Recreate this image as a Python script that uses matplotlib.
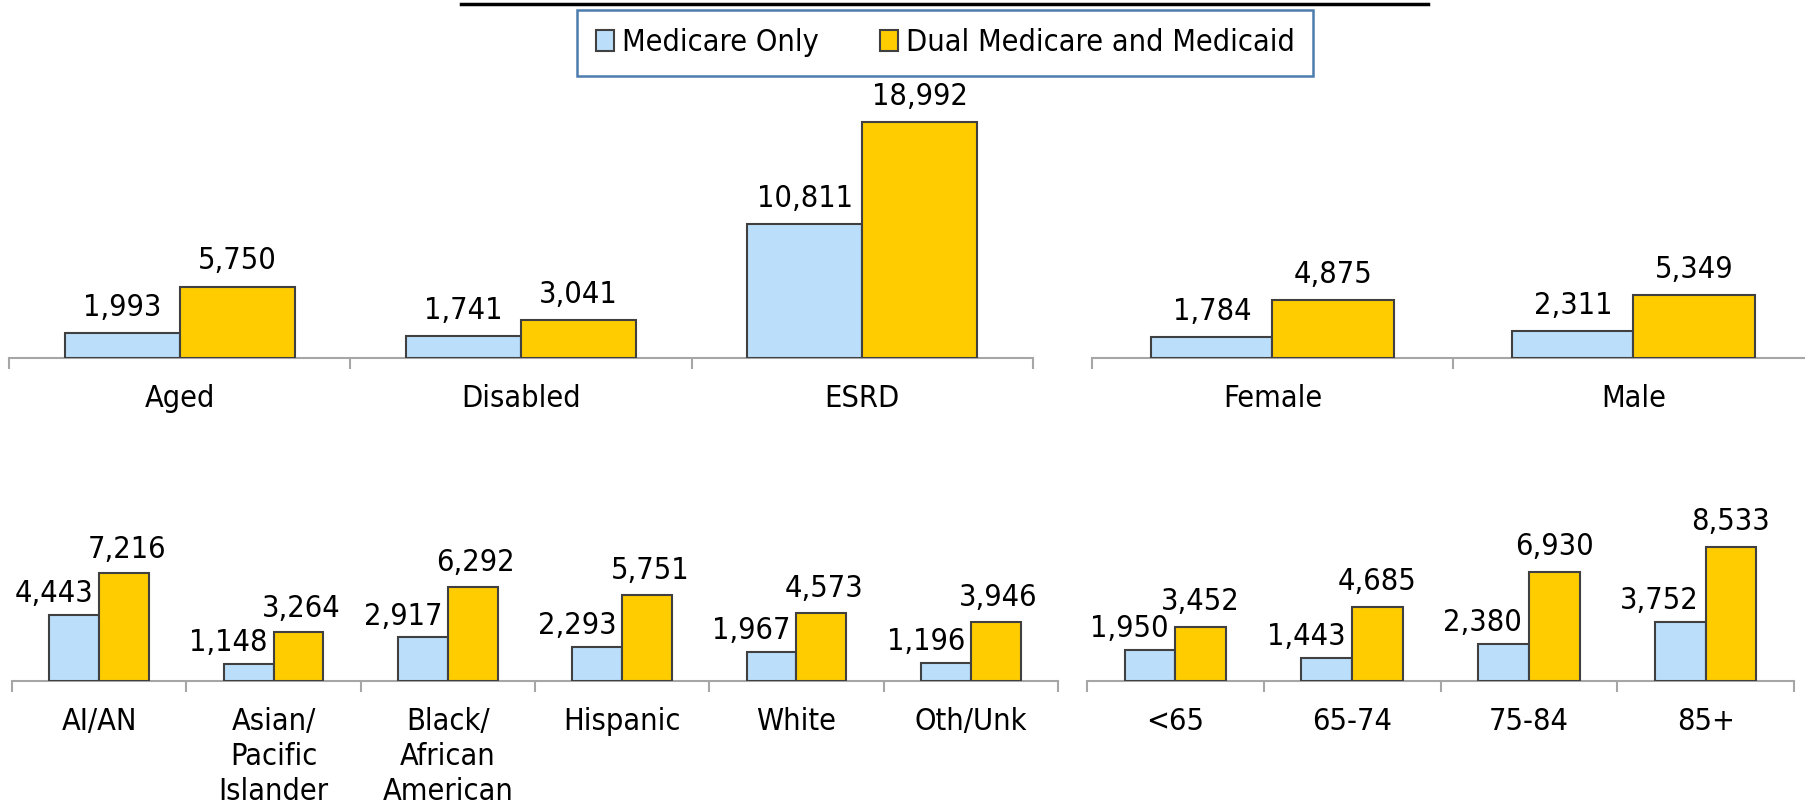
import numpy as np
import matplotlib.pyplot as plt
from matplotlib.lines import Line2D

plt.rcParams['font.family'] = ['DejaVu Sans']
plt.rcParams['font.stretch'] = 'condensed'
plt.rcParams['font.size'] = 22

# --- data ---
series_names = ['Medicare Only', 'Dual Medicare and Medicaid']

elig_cats = ['Aged', 'Disabled', 'ESRD']
elig_medicare = [1993, 1741, 10811]
elig_dual = [5750, 3041, 18992]

sex_cats = ['Female', 'Male']
sex_medicare = [1784, 2311]
sex_dual = [4875, 5349]

race_cats = ['AI/AN', 'Asian/\nPacific\nIslander', 'Black/\nAfrican\nAmerican',
             'Hispanic', 'White', 'Oth/Unk']
race_medicare = [4443, 1148, 2917, 2293, 1967, 1196]
race_dual = [7216, 3264, 6292, 5751, 4573, 3946]

age_cats = ['<65', '65-74', '75-84', '85+']
age_medicare = [1950, 1443, 2380, 3752]
age_dual = [3452, 4685, 6930, 8533]

BLUE = '#BBDEFB'
YELLOW = '#FFCC00'
EDGE = '#404040'
GRAY = '#A6A6A6'

W, H = 1806, 810
fig = plt.figure(figsize=(W / 100, H / 100), dpi=100)


def panel(x0, x1, ybase, ytop, ymax, cats, med, dual, width,
          dx_med=0, dx_dual=0, dy_med=8, dy_dual=8):
    ax = fig.add_axes([x0 / W, (H - ybase) / H, (x1 - x0) / W, (ybase - ytop) / H])
    x = np.arange(len(cats))
    b1 = ax.bar(x - width / 2, med, width, color=BLUE, edgecolor=EDGE,
                linewidth=1.5, label=series_names[0], zorder=3)
    b2 = ax.bar(x + width / 2, dual, width, color=YELLOW, edgecolor=EDGE,
                linewidth=1.5, label=series_names[1], zorder=3)
    for xi, v in zip(x, med):
        ax.annotate(f'{v:,}', (xi - width / 2, v), xytext=(dx_med, dy_med),
                    textcoords='offset points', ha='center', va='bottom')
    for xi, v in zip(x, dual):
        ax.annotate(f'{v:,}', (xi + width / 2, v), xytext=(dx_dual, dy_dual),
                    textcoords='offset points', ha='center', va='bottom')
    ax.set_xlim(-0.5, len(cats) - 0.5)
    ax.set_ylim(0, ymax)
    ax.set_xticks(np.arange(len(cats) + 1) - 0.5)
    ax.set_xticklabels([])
    ax.set_xticks(x, minor=True)
    ax.set_xticklabels(cats, minor=True, linespacing=1.25)
    ax.tick_params(axis='x', which='major', length=8, width=1.5, color=GRAY)
    ax.tick_params(axis='x', which='minor', length=0, pad=19)
    ax.set_yticks([])
    for s in ['top', 'left', 'right']:
        ax.spines[s].set_visible(False)
    ax.spines['bottom'].set_color(GRAY)
    ax.spines['bottom'].set_linewidth(1.5)
    ax.patch.set_alpha(0)
    return ax, b1, b2


ax1, h1, h2 = panel(9, 1033, 358, 60, 298 / 0.01243, elig_cats, elig_medicare, elig_dual, 0.337)
panel(1092, 1814, 358, 60, 298 / 0.01183, sex_cats, sex_medicare, sex_dual, 0.336)
panel(12, 1058, 681, 383, 298 / 0.01492, race_cats, race_medicare, race_dual, 0.285,
      dx_med=-14.5, dx_dual=2, dy_med=5, dy_dual=7)
panel(1087, 1794, 681, 383, 298 / 0.01572, age_cats, age_medicare, age_dual, 0.287,
      dx_med=-15, dx_dual=0, dy_med=5, dy_dual=8)

# title underline (title itself is cut off at the top)
fig.add_artist(Line2D([461 / W, 1428 / W], [1 - 4 / H, 1 - 4 / H], color='black', linewidth=2.5))

leg = fig.legend(handles=[h1, h2], loc='upper center', bbox_to_anchor=(945 / W, 1 - 10 / H),
                 ncol=2, frameon=True, fancybox=False, handlelength=0.6, handleheight=0.65,
                 handletextpad=0.25, columnspacing=2.0, borderpad=0.6, borderaxespad=0)
leg.get_frame().set_edgecolor('#1F5C99')
leg.get_frame().set_linewidth(1.8)

fig.savefig('out.png', dpi=100)
